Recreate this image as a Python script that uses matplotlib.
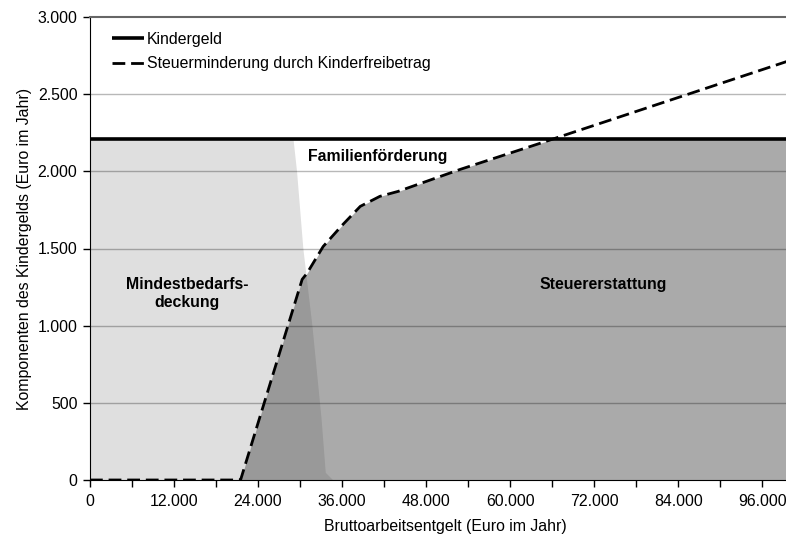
import numpy as np
import matplotlib
matplotlib.use("Agg")
import matplotlib.pyplot as plt
from matplotlib.ticker import FuncFormatter, MultipleLocator

plt.rcParams['font.family'] = ['Liberation Sans', 'DejaVu Sans']

# --- data ---
kindergeld = 2208
# Steuerminderung durch Kinderfreibetrag
tax_x = [0, 21500, 30300, 31000, 33300, 36000, 38600, 41400, 44000, 52900, 64700, 101400]
tax_y = [0, 0, 1300, 1340, 1513, 1650, 1773, 1838, 1870, 2013, 2188, 2740]
# right boundary of "Mindestbedarfsdeckung" area
mind_x = [0, 29000, 29500, 30400, 31700, 33000, 33600, 34700]
mind_y = [2208, 2208, 2000, 1500, 1000, 400, 50, 0]

x_max = 101400
y_max = 3000

labels = {
    "Familienförderung": (41140, 2097),
    "Mindestbedarfs-\ndeckung": (13860, 1208),
    "Steuererstattung": (73290, 1266),
}

FS = 11.4

fig = plt.figure(figsize=(7.86, 5.38), dpi=100)
ax = fig.add_axes([90/786, 58/538, 710/786, 463/538])

# light area
ax.fill_between(mind_x, 0, mind_y, color='#dfdfdf', lw=0, zorder=1)
# tax refund area (semi-transparent so overlap darkens)
xs = np.linspace(0, x_max, 4000)
ys = np.interp(xs, tax_x, tax_y)
ax.fill_between(xs, 0, np.minimum(ys, kindergeld), color='#464646', alpha=0.455, lw=0, zorder=2)

# grid
for v in range(500, 3000, 500):
    ax.axhline(v, color='black', alpha=0.28, lw=1, zorder=3)

# lines
ax.plot([0, x_max], [kindergeld, kindergeld], color='black', lw=2.6, zorder=5,
        label='Kindergeld', solid_capstyle='butt')
ax.plot(tax_x, tax_y, color='black', lw=2.0, dashes=(4.6, 2.1), zorder=6,
        label='Steuerminderung durch Kinderfreibetrag')

for txt, (lx, ly) in labels.items():
    ax.text(lx, ly, txt, ha='center', va='center', fontsize=FS, fontweight='bold',
            zorder=7, linespacing=1.2)

ax.set_xlim(0, x_max)
ax.set_ylim(0, y_max)

fmt = FuncFormatter(lambda v, p: f"{int(v):,}".replace(",", "."))
ax.xaxis.set_major_locator(MultipleLocator(12000))
ax.xaxis.set_minor_locator(MultipleLocator(6000))
ax.yaxis.set_major_locator(MultipleLocator(500))
ax.xaxis.set_major_formatter(fmt)
ax.yaxis.set_major_formatter(fmt)
ax.tick_params(axis='both', which='both', direction='out', length=5, width=1, labelsize=FS, color='black')
ax.tick_params(axis='x', pad=5)
ax.tick_params(axis='y', pad=4)

ax.spines['right'].set_visible(False)
ax.spines['top'].set_color('#666666')
ax.spines['top'].set_linewidth(1.5)
ax.spines['left'].set_color('black')
ax.spines['bottom'].set_color('black')

ax.set_xlabel('Bruttoarbeitsentgelt (Euro im Jahr)', fontsize=FS, labelpad=7)
ax.set_ylabel('Komponenten des Kindergelds (Euro im Jahr)', fontsize=FS, labelpad=4)

leg = ax.legend(loc='upper left', bbox_to_anchor=(0.031, 0.968), frameon=False,
                fontsize=FS, handlelength=2.0, handletextpad=0.2, labelspacing=0.6,
                borderaxespad=0, borderpad=0)

fig.savefig('out.png', dpi=100)
